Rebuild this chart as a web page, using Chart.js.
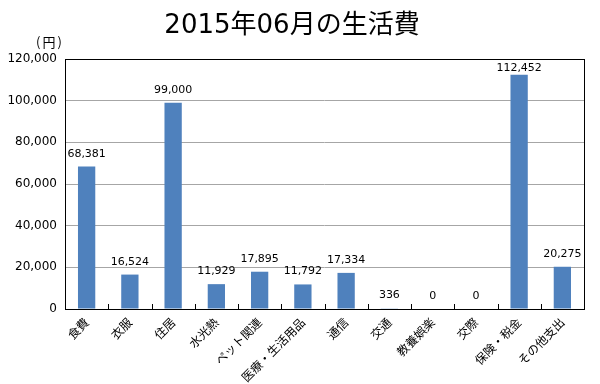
<!DOCTYPE html>
<html>
<head>
<meta charset="utf-8">
<script src="https://cdn.jsdelivr.net/npm/chart.js@4/dist/chart.umd.min.js"></script>
<style>
  html, body { margin:0; padding:0; background:#fff; }
  #wrap { width:600px; height:384px; }
</style>
</head>
<body>
<div id="wrap"><canvas id="costChart" width="600" height="384"></canvas></div>
<script>
// ===== Data =====
const categories = ['食費','衣服','住居','水光熱','ペット関連','医療・生活用品','通信','交通','教養娯楽','交際','保険・税金','その他支出'];
const amounts = [68381, 16524, 99000, 11929, 17895, 11792, 17334, 336, 0, 0, 112452, 20275];
const yTicks = [0, 20000, 40000, 60000, 80000, 100000, 120000];

const fmt = v => v.toLocaleString('en-US');

// value labels above each bar (kept inside the plot frame)
const valueLabels = {
  id:'valueLabels',
  afterDatasetsDraw(chart){
    const ctx = chart.ctx;
    const top = chart.chartArea.top;
    const meta = chart.getDatasetMeta(0);
    ctx.save();
    ctx.font = '11px "DejaVu Sans"';
    ctx.fillStyle = '#000';
    ctx.textAlign = 'center';
    ctx.textBaseline = 'alphabetic';
    meta.data.forEach((bar, i) => {
      const y = Math.max(bar.y - 10, top + 12);
      ctx.fillText(fmt(amounts[i]), bar.x, y);
    });
    ctx.restore();
  }
};

// black frame, inner ticks on the category axis, and the (円) unit
const frame = {
  id:'frame',
  afterDraw(chart){
    const {ctx, chartArea:a} = chart;
    ctx.save();
    ctx.strokeStyle = '#000';
    ctx.lineWidth = 1;
    ctx.strokeRect(Math.round(a.left)+0.5, Math.round(a.top)+0.5, Math.round(a.right-a.left), Math.round(a.bottom-a.top));
    const step = (a.right - a.left) / categories.length;
    ctx.beginPath();
    for(let i=1;i<categories.length;i++){
      const x = Math.round(a.left + step*i) + 0.5;
      ctx.moveTo(x, a.bottom);
      ctx.lineTo(x, a.bottom - 5);
    }
    ctx.stroke();
    ctx.font = '13px "Noto Sans CJK JP"';
    ctx.fillStyle = '#000';
    ctx.textAlign = 'center';
    ctx.textBaseline = 'middle';
    ctx.letterSpacing = '2px';
    ctx.fillText('(円)', 50, 42);
    ctx.restore();
  }
};

const ctx = document.getElementById('costChart').getContext('2d');
new Chart(ctx, {
  type:'bar',
  data:{
    labels:categories,
    datasets:[{data:amounts, backgroundColor:'#4F81BD', barPercentage:0.4, categoryPercentage:1}]
  },
  options:{
    responsive:false,
    animation:false,
    layout:{padding:{top:0, right:16, bottom:0, left:0}},
    plugins:{
      legend:{display:false},
      tooltip:{enabled:false},
      title:{
        display:true,
        text:'2015年06月の生活費',
        color:'#000',
        font:{family:'"DejaVu Sans", "Noto Sans CJK JP"', size:26, weight:'normal'},
        padding:{top:11, bottom:16.8}
      }
    },
    scales:{
      x:{
        grid:{display:false, drawTicks:false},
        border:{display:false},
        ticks:{
          color:'#000',
          font:{family:'"Noto Sans CJK JP"', size:12},
          minRotation:45, maxRotation:45, padding:6, autoSkip:false
        },
        afterFit(s){ s.height = 75; }
      },
      y:{
        min:0, max:120000,
        afterBuildTicks(s){ s.ticks = yTicks.map(v => ({value:v})); },
        grid:{color:'#A6A6A6', drawTicks:false},
        border:{display:false},
        ticks:{
          color:'#000',
          font:{family:'"DejaVu Sans"', size:12},
          padding:8,
          callback:v => fmt(v)
        },
        afterFit(s){ s.width = 65; }
      }
    }
  },
  plugins:[valueLabels, frame]
});
</script>
</body>
</html>
